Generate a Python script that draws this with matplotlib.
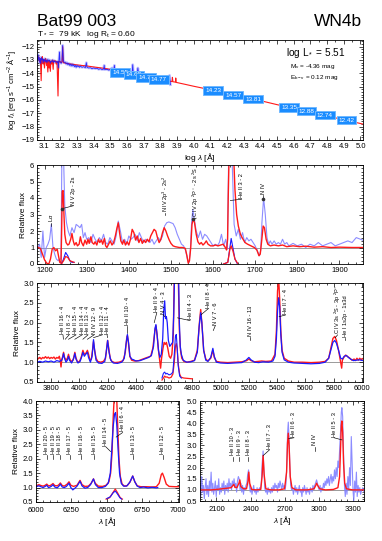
import numpy as np
import matplotlib
matplotlib.use("Agg")
import matplotlib.pyplot as plt
from matplotlib.ticker import MultipleLocator

plt.rcParams["font.family"] = ["Liberation Sans", "DejaVu Sans"]
plt.rcParams["mathtext.fontset"] = "custom"
plt.rcParams["mathtext.rm"] = "Liberation Sans"
plt.rcParams["mathtext.it"] = "Liberation Sans:italic"

RED = "#ff1a1a"
BLUE = "#1a1aff"
LBLUE = "#8080ff"
GREY = "#9a9a9a"

# ---------------- SED panel (log lambda, log f) ----------------
sed_model = np.array([
    (3.060, -12.85), (3.065, -12.95), (3.070, -12.75), (3.075, -13.10), (3.080, -12.90),
    (3.085, -14.55), (3.088, -12.95), (3.092, -12.75), (3.097, -13.30), (3.100, -12.95),
    (3.105, -13.60), (3.108, -13.00), (3.112, -12.90), (3.117, -13.40), (3.120, -13.00),
    (3.125, -13.90), (3.128, -13.05), (3.133, -13.60), (3.136, -13.05), (3.140, -13.85),
    (3.143, -13.10), (3.148, -13.30), (3.152, -13.00), (3.157, -13.70), (3.160, -13.05),
    (3.165, -13.10), (3.170, -13.05), (3.175, -13.30), (3.180, -13.10), (3.186, -15.70),
    (3.190, -13.10), (3.195, -13.15), (3.200, -13.12), (3.205, -13.20), (3.210, -13.15),
    (3.214, -12.00), (3.218, -13.20), (3.225, -13.22), (3.240, -13.26), (3.250, -13.28),
    (3.300, -13.37), (3.360, -13.45), (3.400, -13.52), (3.460, -13.62), (3.500, -13.70),
    (3.550, -13.82), (3.600, -13.95), (3.650, -14.07), (3.700, -14.20), (3.750, -14.32),
    (3.800, -14.45), (3.850, -14.57), (3.870, -14.62), (3.872, -14.30), (3.875, -14.63),
    (3.890, -14.66), (3.892, -14.35), (3.895, -14.68), (3.950, -14.83), (4.000, -14.97),
    (4.100, -15.23), (4.200, -15.50), (4.300, -15.77), (4.400, -16.05), (4.500, -16.35),
    (4.600, -16.63), (4.700, -16.92), (4.800, -17.20), (4.900, -17.48), (5.020, -17.82),
])

sed_obs = np.array([
    (3.060, -12.70), (3.063, -13.10), (3.066, -12.60), (3.070, -13.00), (3.073, -12.80),
    (3.077, -13.20), (3.080, -12.90), (3.083, -13.30), (3.086, -12.80), (3.090, -13.00),
    (3.093, -12.90), (3.097, -13.20), (3.100, -12.95), (3.104, -13.10), (3.108, -12.90),
    (3.112, -13.15), (3.116, -13.00), (3.120, -13.20), (3.125, -12.95), (3.130, -13.10),
    (3.135, -13.00), (3.140, -13.25), (3.145, -13.05), (3.150, -13.15), (3.155, -13.00),
    (3.160, -13.20), (3.165, -13.05), (3.170, -13.15), (3.175, -13.10), (3.180, -13.20),
    (3.185, -13.10), (3.188, -13.60), (3.191, -13.10), (3.195, -12.40), (3.198, -13.15),
    (3.205, -13.25), (3.210, -13.10), (3.214, -11.90), (3.218, -13.00), (3.222, -13.20),
    (3.228, -13.15), (3.235, -13.30), (3.240, -13.20), (3.245, -13.35), (3.250, -13.25),
    (3.255, -13.40), (3.260, -13.30), (3.265, -13.45), (3.270, -13.30), (3.275, -13.45),
    (3.280, -13.35), (3.285, -13.50), (3.290, -13.40), (3.295, -13.55), (3.300, -13.40),
    (3.305, -13.50), (3.310, -13.45), (3.315, -13.55), (3.320, -13.45), (3.330, -13.55),
    (3.340, -13.50), (3.350, -13.58), (3.356, -13.20), (3.360, -13.55), (3.370, -13.60),
    (3.380, -13.58), (3.390, -13.65), (3.400, -13.60), (3.410, -13.65), (3.420, -13.62),
    (3.430, -13.70), (3.440, -13.65), (3.450, -13.72), (3.460, -13.68), (3.463, -13.40),
    (3.466, -13.72), (3.480, -13.70), (3.490, -13.76), (3.500, -13.72), (3.510, -13.60),
    (3.515, -13.95), (3.520, -13.80), (3.524, -13.40), (3.528, -13.85), (3.540, -13.80),
    (3.550, -13.90), (3.560, -13.85), (3.570, -13.95), (3.580, -13.90), (3.590, -14.00),
    (3.600, -13.95), (3.610, -14.05), (3.620, -14.00), (3.630, -14.08), (3.634, -13.35),
    (3.638, -14.05), (3.650, -14.15), (3.660, -14.05), (3.665, -13.60), (3.670, -14.10),
    (3.680, -14.20), (3.690, -14.15), (3.700, -14.25), (3.710, -14.20), (3.720, -14.30),
    (3.730, -14.25), (3.740, -14.35), (3.750, -14.30), (3.760, -14.38), (3.770, -14.35),
    (3.780, -14.42), (3.790, -14.40), (3.800, -14.47), (3.810, -14.40), (3.817, -14.25),
    (3.820, -14.50), (3.830, -14.52), (3.840, -14.50), (3.850, -14.65), (3.855, -14.15),
    (3.860, -14.85),
])

phot_logw = [3.56, 3.64, 3.715, 3.79, 4.117, 4.237, 4.356, 4.572, 4.677, 4.785, 4.916]
phot_logf = [-13.95, -14.12, -14.30, -14.48, -15.26, -15.63, -15.93, -16.57, -16.83, -17.13, -17.50]
phot_mag = ["14.55", "14.68", "14.75", "14.77", "14.23", "14.57", "13.81",
            "13.35", "12.88", "12.74", "12.42"]

# ---------------- UV panel ----------------
uv_obs = np.array([
    (1180, 1.10), (1184, 1.00), (1188, 1.20), (1192, 0.40), (1196, 2.00), (1200, 0.40),
    (1204, 1.00), (1208, 1.20), (1212, 1.50), (1216, 2.40), (1220, 1.00), (1224, 0.60),
    (1228, 0.30), (1232, 0.20), (1236, 0.30), (1239, 0.30), (1241, 6.50), (1245, 6.50),
    (1248, 3.50), (1252, 2.50), (1256, 2.00), (1260, 1.70), (1265, 2.20), (1270, 1.90),
    (1275, 2.40), (1280, 2.30), (1284, 2.20), (1288, 2.40), (1292, 1.60), (1296, 1.90),
    (1300, 1.50), (1305, 1.60), (1310, 1.30), (1315, 1.80), (1320, 1.50), (1325, 1.30),
    (1330, 1.60), (1335, 1.40), (1340, 1.80), (1345, 1.30), (1350, 1.20), (1355, 1.60),
    (1360, 1.40), (1365, 1.20), (1370, 1.70), (1375, 2.60), (1380, 2.00), (1385, 1.30),
    (1390, 1.50), (1395, 1.20), (1400, 1.70), (1405, 1.50), (1410, 1.60), (1415, 1.80),
    (1420, 1.40), (1425, 1.90), (1430, 1.60), (1435, 1.30), (1440, 1.50), (1445, 1.40),
    (1450, 1.30), (1455, 1.50), (1460, 1.20), (1465, 1.40), (1470, 1.60), (1475, 1.40),
    (1480, 1.70), (1485, 2.30), (1490, 2.50), (1495, 2.55), (1500, 2.50), (1505, 2.45),
    (1510, 2.20), (1515, 1.80), (1520, 1.50), (1525, 1.20), (1530, 1.10), (1535, 0.80),
    (1540, 0.20), (1543, 0.10), (1546, 0.80), (1549, 2.50), (1552, 3.30), (1555, 2.80),
    (1560, 2.00), (1565, 1.60), (1570, 2.00), (1575, 1.50), (1580, 1.80), (1585, 1.70),
    (1590, 1.50), (1595, 1.30), (1600, 1.10), (1605, 1.20), (1610, 1.10), (1615, 1.30),
    (1620, 1.80), (1625, 1.10), (1630, 1.50), (1634, 0.90), (1637, 6.50), (1645, 6.50),
    (1650, 2.40), (1655, 1.70), (1660, 2.10), (1665, 1.50), (1670, 1.90), (1675, 1.30),
    (1680, 1.60), (1685, 1.40), (1690, 1.50), (1695, 1.30), (1700, 1.10), (1705, 0.80),
    (1710, 0.50), (1713, 0.80), (1716, 2.50), (1720, 4.00), (1724, 3.00), (1728, 1.60),
    (1732, 1.20), (1736, 1.40), (1740, 1.20), (1745, 1.40), (1750, 1.20), (1755, 1.30),
    (1760, 1.20), (1765, 1.50), (1770, 1.20), (1775, 1.30), (1780, 1.10), (1790, 1.25),
    (1800, 1.10), (1810, 1.20), (1820, 1.00), (1830, 1.20), (1840, 1.10), (1850, 1.30),
    (1860, 1.10), (1870, 1.20), (1880, 1.30), (1890, 1.10), (1900, 1.20), (1910, 1.30),
    (1920, 1.40), (1930, 1.30), (1940, 1.60), (1950, 1.50), (1960, 1.40),
])

uv_model = np.array([
    (1180, 1.05), (1185, 1.00), (1190, 0.95), (1195, 0.60), (1200, 0.25), (1205, 0.05),
    (1210, 0.00), (1214, 0.30), (1218, 0.90), (1222, 1.00), (1226, 0.80), (1230, 0.90),
    (1233, 0.50), (1236, 0.10), (1239, 0.05), (1240.5, 2.00), (1242, 4.40), (1244, 4.45),
    (1246, 3.00), (1248, 1.80), (1251, 1.30), (1255, 1.15), (1258, 1.20), (1262, 1.50),
    (1265, 1.85), (1268, 1.40), (1271, 1.15), (1275, 1.30), (1278, 1.10), (1282, 1.20),
    (1285, 1.65), (1288, 1.30), (1292, 1.10), (1296, 1.45), (1300, 1.20), (1303, 1.50),
    (1306, 1.25), (1310, 1.65), (1313, 1.30), (1317, 1.20), (1320, 1.35), (1324, 1.15),
    (1328, 1.50), (1331, 1.30), (1335, 1.45), (1338, 1.20), (1342, 1.55), (1345, 1.10),
    (1348, 1.00), (1352, 1.20), (1356, 1.40), (1360, 1.15), (1364, 1.30), (1368, 1.70),
    (1372, 2.20), (1375, 2.50), (1378, 1.90), (1381, 1.40), (1385, 1.20), (1388, 1.45),
    (1392, 1.15), (1396, 1.35), (1400, 1.15), (1404, 1.50), (1408, 2.10), (1412, 1.90),
    (1416, 1.45), (1420, 1.70), (1424, 1.30), (1428, 1.55), (1432, 1.25), (1436, 1.45),
    (1440, 1.30), (1444, 1.50), (1448, 1.35), (1452, 1.70), (1456, 1.90), (1460, 2.10),
    (1464, 2.00), (1468, 1.60), (1472, 1.30), (1476, 1.50), (1480, 1.90), (1484, 2.20),
    (1488, 2.00), (1492, 1.70), (1496, 1.45), (1500, 1.25), (1505, 1.10), (1510, 1.05),
    (1520, 1.00), (1528, 1.00), (1534, 0.95), (1538, 0.50), (1541, 0.05), (1544, 0.20),
    (1547, 1.00), (1550, 2.40), (1553, 2.75), (1556, 2.50), (1560, 1.80), (1564, 1.35),
    (1568, 1.20), (1572, 1.30), (1576, 1.15), (1580, 1.25), (1584, 1.40), (1588, 1.20),
    (1594, 1.10), (1600, 1.10), (1606, 1.15), (1612, 1.10), (1618, 1.15), (1624, 1.20),
    (1628, 1.05), (1632, 0.85), (1634.5, 1.50), (1636, 4.00), (1638, 6.50), (1649, 6.50),
    (1652, 4.50), (1656, 3.00), (1660, 2.30), (1665, 1.80), (1670, 1.55), (1676, 1.30),
    (1682, 1.20), (1690, 1.10), (1698, 1.00), (1704, 0.85), (1709, 0.50), (1712, 0.60),
    (1715, 1.30), (1719, 2.30), (1722, 2.20), (1726, 1.50), (1730, 1.20), (1736, 1.10),
    (1745, 1.15), (1755, 1.10), (1765, 1.15), (1775, 1.05), (1790, 1.10), (1805, 1.05),
    (1820, 1.08), (1840, 1.02), (1860, 1.05), (1880, 1.00), (1900, 1.02), (1930, 1.00),
    (1960, 1.00),
])

uv_cut_obs = [
    np.array([(1240, 0.00), (1245, 0.30), (1250, 0.70), (1255, 0.50), (1260, 0.20), (1265, 0.10), (1270, 0.10)]),
    np.array([(1625, 0.00), (1635, 0.10), (1640, 1.00), (1643, 1.55), (1647, 1.00), (1652, 0.30), (1658, 0.00)]),
]
uv_cut_model = [
    np.array([(1240, 0.00), (1245, 0.20), (1250, 0.45), (1255, 0.40), (1260, 0.20), (1265, 0.15), (1270, 0.10)]),
    np.array([(1625, 0.00), (1635, 0.10), (1640, 0.90), (1643, 1.10), (1647, 0.80), (1652, 0.30), (1658, 0.05)]),
]

# ---------------- optical blue panel ----------------
opt_model = np.array([
    (3700, 1.05), (3710, 1.10), (3720, 1.12), (3730, 1.08), (3740, 1.12), (3750, 1.10),
    (3760, 1.14), (3770, 1.10), (3780, 1.13), (3790, 1.09), (3800, 1.12), (3810, 1.10),
    (3820, 1.13), (3830, 1.08), (3840, 1.12), (3850, 1.10), (3858, 1.15), (3865, 1.05),
    (3870, 0.88), (3875, 1.05), (3882, 1.15), (3888, 1.25), (3895, 1.12), (3905, 1.05),
    (3915, 1.10), (3923, 1.20), (3930, 1.10), (3940, 1.02), (3955, 1.05), (3962, 1.15),
    (3968, 1.25), (3975, 1.12), (3985, 1.02), (3995, 1.00), (4005, 1.05), (4015, 1.15),
    (4025, 1.30), (4035, 1.20), (4045, 1.22), (4057, 1.30), (4065, 1.20), (4075, 1.05),
    (4085, 1.08), (4093, 1.30), (4100, 1.52), (4108, 1.30), (4118, 1.10), (4130, 1.02),
    (4150, 1.00), (4170, 1.02), (4185, 1.10), (4193, 1.35), (4200, 1.55), (4208, 1.35),
    (4218, 1.10), (4230, 1.02), (4250, 0.99), (4280, 1.00), (4310, 1.04), (4325, 1.25),
    (4335, 1.60), (4340, 1.67), (4347, 1.50), (4357, 1.15), (4370, 1.05), (4390, 1.03),
    (4420, 1.04), (4450, 1.08), (4480, 1.12), (4505, 1.15), (4520, 1.35), (4535, 1.80),
    (4542, 1.92), (4550, 1.70), (4560, 1.30), (4568, 1.05), (4575, 0.85), (4582, 1.10),
    (4592, 1.35), (4600, 1.50), (4608, 1.45), (4616, 1.50), (4626, 1.35), (4636, 1.15),
    (4646, 1.10), (4655, 1.20), (4665, 1.70), (4672, 3.20), (4700, 3.20), (4708, 1.80),
    (4716, 1.30), (4725, 1.10), (4740, 1.02), (4760, 1.00), (4790, 1.02), (4815, 1.05),
    (4835, 1.30), (4850, 2.00), (4859, 2.33), (4867, 2.00), (4880, 1.30), (4895, 1.08),
    (4910, 1.03), (4930, 1.10), (4945, 1.30), (4955, 1.12), (4970, 1.02), (5000, 1.00),
    (5050, 0.99), (5100, 1.00), (5150, 1.01), (5185, 1.04), (5200, 1.08), (5215, 1.04),
    (5240, 1.01), (5290, 1.03), (5320, 1.02), (5360, 1.03), (5385, 1.20), (5395, 1.80),
    (5403, 2.80), (5411, 3.10), (5418, 2.60), (5426, 1.80), (5435, 1.30), (5450, 1.10),
    (5480, 1.03), (5520, 1.00), (5580, 1.00), (5640, 0.99), (5700, 1.00), (5740, 1.02),
    (5765, 1.10), (5780, 1.35), (5795, 1.60), (5808, 1.65), (5820, 1.55), (5835, 1.30),
    (5845, 1.10), (5852, 0.95), (5857, 0.85), (5862, 1.05), (5872, 1.12), (5885, 1.18),
    (5900, 1.14), (5915, 1.10), (5930, 1.05), (5945, 1.08), (5955, 1.04), (5965, 1.10),
    (5975, 1.05), (5985, 1.10), (5995, 1.06), (6010, 1.10),
])

opt_obs = np.array([
    (3700, 1.00), (3720, 1.02), (3740, 1.00), (3760, 1.03), (3780, 1.01), (3800, 1.03),
    (3820, 1.00), (3840, 1.04), (3860, 1.02), (3875, 1.05), (3882, 1.12), (3888, 1.22),
    (3895, 1.10), (3905, 1.00), (3915, 1.05), (3923, 1.15), (3930, 1.05), (3945, 0.98),
    (3960, 1.10), (3968, 1.22), (3976, 1.08), (3990, 0.98), (4005, 1.02), (4015, 1.12),
    (4025, 1.25), (4035, 1.15), (4045, 1.20), (4057, 1.25), (4065, 1.12), (4078, 1.00),
    (4090, 1.15), (4100, 1.57), (4108, 1.30), (4118, 1.05), (4135, 0.98), (4160, 0.97),
    (4180, 1.02), (4190, 1.25), (4200, 1.55), (4210, 1.25), (4222, 1.05), (4240, 0.98),
    (4270, 0.97), (4300, 1.00), (4318, 1.10), (4330, 1.45), (4340, 1.70), (4348, 1.50),
    (4358, 1.15), (4370, 1.08), (4385, 1.06), (4400, 1.03), (4430, 1.04), (4460, 1.08),
    (4490, 1.12), (4510, 1.17), (4525, 1.40), (4535, 1.85), (4542, 1.95), (4550, 1.70),
    (4560, 1.30), (4570, 1.12), (4580, 1.20), (4590, 1.60), (4597, 2.30), (4604, 2.55),
    (4610, 2.10), (4616, 2.15), (4622, 2.00), (4630, 1.55), (4640, 1.40), (4650, 1.45),
    (4660, 1.50), (4668, 2.20), (4674, 3.20), (4702, 3.20), (4708, 2.00), (4714, 1.40),
    (4722, 1.20), (4735, 1.05), (4760, 1.00), (4790, 1.01), (4815, 1.04), (4835, 1.25),
    (4848, 1.90), (4859, 2.25), (4867, 2.00), (4880, 1.30), (4895, 1.05), (4910, 1.02),
    (4930, 1.12), (4945, 1.35), (4955, 1.15), (4970, 1.00), (5000, 0.98), (5050, 0.97),
    (5100, 0.98), (5150, 0.99), (5180, 1.05), (5200, 1.12), (5215, 1.06), (5240, 1.00),
    (5270, 0.99), (5300, 1.01), (5340, 1.00), (5370, 1.03), (5385, 1.15), (5395, 1.60),
    (5403, 2.30), (5411, 2.63), (5418, 2.40), (5426, 1.70), (5435, 1.25), (5450, 1.06),
    (5480, 1.00), (5520, 0.98), (5580, 0.97), (5640, 0.96), (5700, 0.97), (5740, 1.00),
    (5765, 1.10), (5780, 1.30), (5795, 1.50), (5808, 1.55), (5820, 1.48), (5835, 1.30),
    (5850, 1.10), (5862, 1.08), (5875, 1.15), (5890, 1.17), (5905, 1.12), (5920, 1.08),
    (5940, 1.04), (5960, 1.05), (5980, 1.06), (6010, 1.04),
])

opt_cut_model = np.array([
    (4585, 0.55), (4595, 0.60), (4604, 0.65), (4612, 0.62), (4620, 0.63), (4635, 0.60),
    (4650, 0.62), (4662, 0.70), (4672, 1.00), (4680, 1.40), (4686, 1.47), (4692, 1.35),
    (4700, 0.95), (4710, 0.70), (4720, 0.62), (4740, 0.60), (4770, 0.59), (4800, 0.58),
])
opt_cut_obs = np.array([
    (4585, 0.60), (4595, 0.72), (4604, 0.75), (4612, 0.70), (4620, 0.72), (4635, 0.68),
    (4650, 0.70), (4662, 0.75), (4672, 1.20), (4680, 1.65), (4686, 1.70), (4692, 1.40),
    (4700, 0.90), (4710, 0.65), (4722, 0.60),
])

# ---------------- red optical panel ----------------
red_model = np.array([
    (6000, 1.06), (6020, 1.10), (6035, 1.07), (6050, 1.05), (6065, 1.08),
    (6076, 1.12), (6088, 1.06), (6100, 1.07), (6110, 1.10), (6120, 1.14), (6132, 1.07),
    (6150, 1.06), (6162, 1.10), (6172, 1.16), (6185, 1.07), (6200, 1.05), (6220, 1.12),
    (6233, 1.20), (6246, 1.08), (6265, 1.04), (6290, 1.08), (6311, 1.25), (6325, 1.10),
    (6345, 1.04), (6370, 1.05), (6390, 1.15), (6406, 1.30), (6418, 1.15), (6440, 1.05),
    (6470, 1.04), (6495, 1.08), (6515, 1.20), (6527, 1.50), (6537, 2.20), (6545, 3.40),
    (6552, 4.10), (6570, 4.10), (6578, 3.00), (6586, 2.00), (6595, 1.40), (6608, 1.12),
    (6625, 1.05), (6645, 1.07), (6665, 1.20), (6683, 1.40), (6698, 1.20), (6715, 1.06),
    (6740, 1.03), (6780, 1.03), (6820, 1.02), (6850, 1.03), (6870, 1.15), (6885, 1.45),
    (6893, 1.50), (6905, 1.35), (6920, 1.12), (6940, 1.04), (6980, 1.03), (7010, 1.03),
])
red_obs = np.array([
    (6000, 1.03), (6020, 1.06), (6035, 1.03), (6050, 1.00), (6065, 1.04),
    (6076, 1.08), (6088, 1.00), (6100, 1.02), (6110, 1.05), (6120, 1.10), (6132, 1.02),
    (6150, 0.99), (6162, 1.05), (6172, 1.12), (6185, 1.02), (6200, 1.00), (6215, 1.04),
    (6233, 1.15), (6246, 1.00), (6260, 0.92), (6275, 0.98), (6290, 1.05), (6311, 1.22),
    (6325, 1.06), (6345, 0.98), (6365, 1.00), (6385, 1.10), (6406, 1.30), (6420, 1.10),
    (6440, 1.00), (6465, 1.00), (6490, 1.04), (6510, 1.15), (6525, 1.50), (6535, 2.30),
    (6545, 3.10), (6555, 3.55), (6562, 3.60), (6570, 3.20), (6580, 2.30), (6590, 1.50),
    (6602, 1.15), (6618, 1.05), (6640, 1.05), (6662, 1.18), (6683, 1.40), (6698, 1.20),
    (6715, 1.05), (6735, 1.00), (6760, 1.02), (6790, 0.99), (6820, 1.01), (6850, 0.99),
    (6860, 1.00),
])
red_cut_model = np.array([(6495, 0.60), (6520, 0.65), (6540, 0.80), (6560, 0.95), (6578, 0.80), (6595, 0.65), (6610, 0.60)])
red_cut_obs = np.array([(6500, 0.62), (6525, 0.68), (6545, 0.82), (6560, 0.88), (6575, 0.78), (6592, 0.65), (6605, 0.60)])

# ---------------- near-UV panel ----------------
nuv_model = np.array([
    (1955, 1.00), (2050, 1.00), (2100, 1.02), (2150, 1.05), (2200, 1.08), (2230, 1.10),
    (2245, 1.20), (2253, 1.25), (2262, 1.12), (2280, 1.10), (2298, 1.30), (2306, 1.45),
    (2315, 1.15), (2340, 1.05), (2365, 1.05), (2378, 1.40), (2385, 1.80), (2393, 1.30),
    (2410, 1.02), (2450, 1.00), (2490, 1.02), (2502, 1.60), (2511, 2.55), (2520, 1.70),
    (2535, 1.05), (2580, 1.00), (2650, 1.00), (2700, 1.05), (2718, 1.80), (2726, 3.10),
    (2733, 3.55), (2740, 3.00), (2750, 1.60), (2765, 1.10), (2800, 1.00), (2900, 1.00),
    (2960, 1.05), (2975, 1.20), (2982, 1.30), (2992, 1.20), (3010, 1.05), (3060, 1.00),
    (3130, 1.02), (3170, 1.10), (3185, 1.60), (3193, 2.80), (3200, 3.90), (3205, 4.10),
    (3212, 3.60), (3220, 2.20), (3230, 1.30), (3245, 1.05), (3300, 1.00), (3400, 1.00),
])
nuv_obs = np.array([
    (1955, 1.30), (1962, 0.70), (1970, 1.60), (1978, 0.90), (1985, 1.20), (1993, 0.60),
    (2000, 1.10), (2008, 1.50), (2015, 0.80), (2023, 1.20), (2030, 0.70), (2038, 1.40),
    (2045, 1.00), (2053, 1.80), (2060, 0.90), (2068, 1.30), (2075, 0.80), (2083, 1.10),
    (2090, 1.40), (2098, 0.70), (2105, 1.20), (2113, 1.00), (2120, 1.50), (2128, 0.80),
    (2135, 1.10), (2143, 0.90), (2150, 1.30), (2158, 1.00), (2165, 1.40), (2173, 0.80),
    (2180, 1.20), (2188, 1.00), (2195, 1.30), (2203, 0.90), (2210, 1.50), (2218, 1.10),
    (2225, 1.30), (2233, 1.00), (2240, 1.40), (2248, 1.20), (2255, 1.50), (2263, 1.10),
    (2270, 1.30), (2278, 0.90), (2285, 1.40), (2293, 1.60), (2300, 1.50), (2308, 1.00),
    (2315, 1.30), (2323, 0.90), (2330, 1.20), (2338, 0.80), (2345, 1.10), (2353, 1.00),
    (2360, 1.20), (2368, 1.30), (2375, 1.70), (2383, 1.90), (2390, 1.20), (2398, 0.90),
    (2405, 1.10), (2413, 0.80), (2420, 1.00), (2428, 1.20), (2435, 0.90), (2443, 1.00),
    (2450, 0.80), (2458, 1.10), (2465, 0.90), (2473, 1.00), (2480, 1.10), (2488, 1.00),
    (2495, 1.30), (2503, 2.20), (2511, 2.75), (2518, 1.90), (2525, 1.10), (2533, 0.90),
    (2540, 1.00), (2548, 0.80), (2555, 1.10), (2563, 0.90), (2570, 1.00), (2578, 0.85),
    (2585, 1.10), (2593, 0.90), (2600, 1.20), (2608, 1.00), (2615, 1.30), (2623, 1.10),
    (2630, 1.20), (2638, 0.90), (2645, 1.30), (2653, 1.10), (2660, 1.40), (2668, 1.20),
    (2675, 1.00), (2683, 1.30), (2690, 1.10), (2698, 1.20), (2705, 1.00), (2713, 1.30),
    (2720, 2.20), (2726, 3.50), (2733, 4.05), (2740, 3.30), (2747, 2.00), (2754, 1.20),
    (2762, 1.00), (2770, 1.10), (2778, 0.80), (2785, 1.00), (2793, 1.20), (2800, 0.90),
    (2808, 1.10), (2815, 0.80), (2823, 1.00), (2830, 1.20), (2838, 0.90), (2845, 1.00),
    (2853, 0.70), (2860, 1.10), (2868, 0.90), (2875, 1.20), (2883, 1.00), (2890, 0.80),
    (2898, 1.10), (2905, 0.90), (2913, 1.00), (2920, 0.80), (2928, 1.10), (2935, 1.00),
    (2943, 0.90), (2950, 1.20), (2958, 1.00), (2965, 1.20), (2973, 1.30), (2982, 1.45),
    (2990, 1.30), (2998, 1.10), (3005, 1.00), (3013, 1.20), (3020, 0.90), (3028, 1.10),
    (3035, 1.00), (3043, 1.30), (3050, 1.10), (3058, 1.40), (3065, 1.20), (3073, 1.50),
    (3080, 1.30), (3088, 1.60), (3095, 1.20), (3103, 1.50), (3110, 1.70), (3118, 1.30),
    (3125, 1.60), (3133, 1.40), (3140, 1.90), (3148, 1.50), (3155, 2.00), (3163, 1.60),
    (3170, 2.30), (3178, 2.00), (3185, 2.80), (3193, 3.60), (3200, 4.50), (3205, 4.70),
    (3212, 4.30), (3220, 2.60), (3228, 1.20), (3235, 0.70), (3243, 1.30), (3250, 0.80),
    (3258, 1.60), (3265, 1.00), (3273, 2.00), (3280, 1.20), (3288, 3.40), (3295, 2.30),
    (3303, 1.00), (3310, 0.50), (3318, 1.40), (3325, 0.90), (3333, 1.80), (3340, 0.70),
    (3348, 1.20), (3355, 0.90), (3363, 1.10), (3370, 0.80), (3380, 1.00), (3390, 1.10),
    (3400, 0.90),
])

# line identifications: (text x, text bottom y, label, leader start x, leader start y)
uv_ids = [
    (1216, 2.55, r"L$\alpha$", 1216, 2.30),
    (1268, 3.60, "N V 2p - 2s", 1241, 3.35),
    (1487, 3.15, r"N IV 2p$^3$ - 2s$^2$", 1487, 2.95),
    (1560, 2.85, r"C IV 2p $^2$P$^\circ$ - 2s $^2$S", 1552, 2.70),
    (1668, 4.00, "He II 3 - 2", 1641, 3.85),
    (1719, 4.25, "N IV", 1719, 3.95),
]
opt_ids = [
    (3884, 1.72, "He II 16 - 4", 3887, 1.58),
    (3927, 1.72, "H I 8 - 2", 3900, 1.58),
    (3976, 1.72, "He II 15 - 4", 3923, 1.58),
    (4019, 1.72, "He II 14 - 4", 3968, 1.58),
    (4061, 1.72, "He II 13 - 4", 4025, 1.58),
    (4104, 1.72, "N IV 12 - 9", 4057, 1.58),
    (4161, 1.72, "He II 12 - 4", 4100, 1.62),
    (4196, 1.72, "He II 11 - 4", 4200, 1.62),
    (4340, 1.95, "He II 10 - 4", 4340, 1.74),
    (4548, 2.28, "He II 9 - 4", 4530, 2.00),
    (4595, 2.22, "N V 4 - 3", 4604, 2.15),
    (4784, 2.08, "He II 4 - 3", 4695, 2.12),
    (4912, 2.38, "He II 8 - 4", 4862, 2.20),
    (4962, 1.95, "N V 7 - 6", 4948, 1.80),
    (5210, 1.66, "N IV 16 - 13", 5210, 1.55),
    (5458, 2.22, "He II 7 - 4", 5414, 2.15),
    (5828, 1.72, r"C IV 3s $^2$S - 3p $^2$P$^\circ$", 5812, 1.62),
    (5883, 1.64, "He I 1s2p - 1s3d", 5883, 1.55),
]
red_ids = [
    (6076, 2.17, "He II 20 - 5", 6076, 2.00),
    (6122, 2.17, "He II 19 - 5", 6122, 2.00),
    (6169, 2.17, "He II 18 - 5", 6169, 2.00),
    (6240, 2.17, "He II 17 - 5", 6240, 2.00),
    (6318, 2.17, "He II 16 - 5", 6318, 2.00),
    (6412, 2.17, "He II 15 - 5", 6412, 2.00),
    (6494, 2.45, "He II 14 - 5", 6527, 2.25),
    (6612, 2.95, "He II 6 - 4", 6566, 2.75),
    (6687, 2.17, "He II 13 - 5", 6687, 2.00),
    (6895, 2.17, "He II 12 - 5", 6895, 2.00),
]
nuv_ids = [
    (2243, 2.55, "He II 10 - 3", 2243, 2.30),
    (2301, 2.55, "He II 9 - 3", 2301, 2.30),
    (2381, 2.55, "He II 8 - 3", 2381, 2.30),
    (2566, 2.85, "He II 7 - 3", 2513, 2.55),
    (2783, 3.40, "He II 6 - 3", 2736, 3.30),
    (2968, 3.00, "N IV", 2968, 2.75),
    (3136, 3.40, "He II 5 - 3", 3205, 3.25),
]

W, H = 382, 541
fig = plt.figure(figsize=(W / 100, H / 100), dpi=100)


def box(x0, y0, x1, y1):
    return fig.add_axes([x0 / W, 1 - y1 / H, (x1 - x0) / W, (y1 - y0) / H])


def style(ax, xmaj, xmin, ymaj, ymin):
    ax.xaxis.set_major_locator(MultipleLocator(xmaj))
    ax.xaxis.set_minor_locator(MultipleLocator(xmin))
    ax.yaxis.set_major_locator(MultipleLocator(ymaj))
    ax.yaxis.set_minor_locator(MultipleLocator(ymin))
    ax.tick_params(which="both", direction="in", top=True, right=True,
                   labelsize=5.5, width=0.5, pad=2)
    ax.tick_params(which="major", length=3)
    ax.tick_params(which="minor", length=1.5)
    for s in ax.spines.values():
        s.set_linewidth(0.6)


def ident(ax, ids, fs=4.1):
    gap = 0.012 * (ax.get_ylim()[1] - ax.get_ylim()[0])
    for xt, yt, lab, xl, yl in ids:
        ax.plot([xl, xt], [yl, yt - gap], color="black", lw=0.45)
        ax.text(xt, yt, lab, rotation=90, ha="center", va="bottom", fontsize=fs)


# --- SED ---
ax1 = box(37, 40, 363, 140)
ax1.plot(sed_obs[:, 0], sed_obs[:, 1], color=LBLUE, lw=2.0, alpha=0.45)
ax1.plot(sed_model[:, 0], sed_model[:, 1], color=RED, lw=0.8)
ax1.plot(sed_obs[:, 0], sed_obs[:, 1], color=BLUE, lw=0.6, alpha=0.9)
for xw, yf, m in zip(phot_logw, phot_logf, phot_mag):
    ax1.text(xw, yf, m, fontsize=4.6, color="white", ha="center", va="center",
             bbox=dict(boxstyle="square,pad=0.3", fc="#1a8cff", ec="#70b8ff", lw=0.7))
ax1.set_xlim(3.06, 5.015)
ax1.set_ylim(-19, -11.5)
style(ax1, 0.1, 0.05, 1, 0.2)
ax1.set_xlabel(r"log $\lambda$ [Å]", fontsize=6, labelpad=1)
ax1.set_ylabel(r"log $f_\lambda$ [erg s$^{-1}$ cm$^{-2}$ Å$^{-1}$]", fontsize=5.5, labelpad=2)
ax1.text(0.945, 0.87, r"log L$_*$ = 5.51", transform=ax1.transAxes, fontsize=7.2,
         ha="right", va="center")
ax1.text(0.775, 0.73, r"M$_\mathrm{v}$ = -4.36 mag", transform=ax1.transAxes, fontsize=4.6,
         ha="left", va="center")
ax1.text(0.775, 0.62, r"E$_\mathrm{b-v}$ = 0.12 mag", transform=ax1.transAxes, fontsize=4.6,
         ha="left", va="center")

# --- UV ---
ax2 = box(37, 165, 363, 264)
ax2.axhline(1.0, color=GREY, lw=0.7, zorder=1)
ax2.plot(uv_obs[:, 0], uv_obs[:, 1], color=LBLUE, lw=0.8, alpha=0.9)
ax2.plot(uv_model[:, 0], uv_model[:, 1], color=RED, lw=1.0)
for c in uv_cut_obs:
    ax2.plot(c[:, 0], c[:, 1], color=BLUE, lw=0.8)
for c in uv_cut_model:
    ax2.plot(c[:, 0], c[:, 1], color=RED, lw=0.9)
ax2.set_xlim(1182, 1956)
ax2.set_ylim(0, 6)
style(ax2, 100, 20, 1, 0.2)
ax2.set_ylabel("Relative flux", fontsize=6, labelpad=2)
ident(ax2, uv_ids)
ax2.plot([1241, 1552, 1719], [3.35, 2.70, 3.95], "o", color="#333333", ms=1.6)

# --- optical ---
ax3 = box(37, 283, 363, 382)
ax3.axhline(1.0, color=GREY, lw=0.7, zorder=1)
ax3.plot(opt_model[:, 0], opt_model[:, 1], color=RED, lw=1.0)
ax3.plot(opt_obs[:, 0], opt_obs[:, 1], color=BLUE, lw=0.9)
ax3.plot(opt_cut_model[:, 0], opt_cut_model[:, 1], color=RED, lw=0.9)
ax3.plot(opt_cut_obs[:, 0], opt_cut_obs[:, 1], color=BLUE, lw=0.8)
ax3.set_xlim(3700, 6008)
ax3.set_ylim(0.5, 3.0)
style(ax3, 200, 50, 0.5, 0.1)
ax3.set_ylabel("Relative flux", fontsize=6, labelpad=2)
ident(ax3, opt_ids)

# --- red optical ---
ax4 = box(36, 401, 179, 502)
ax4.axhline(1.0, color=GREY, lw=0.7, zorder=1)
ax4.plot(red_model[:, 0], red_model[:, 1], color=RED, lw=1.0)
ax4.plot(red_obs[:, 0], red_obs[:, 1], color=BLUE, lw=0.9)
ax4.plot(red_cut_model[:, 0], red_cut_model[:, 1], color=RED, lw=0.9)
ax4.plot(red_cut_obs[:, 0], red_cut_obs[:, 1], color=BLUE, lw=0.8)
ax4.set_xlim(6000, 7010)
ax4.set_ylim(0.5, 4.0)
style(ax4, 250, 50, 0.5, 0.1)
ax4.tick_params(axis="x", pad=3.5)
ax4.set_ylabel("Relative flux", fontsize=6, labelpad=2)
ax4.set_xlabel(r"$\lambda$ [Å]", fontsize=6, labelpad=0.5)
ident(ax4, red_ids)

# --- near UV ---
ax5 = box(200, 401, 364, 501)
ax5.axhline(1.0, color=GREY, lw=0.7, zorder=1)
ax5.plot(nuv_obs[:, 0], nuv_obs[:, 1], color=LBLUE, lw=0.8, alpha=0.9)
ax5.plot(nuv_model[:, 0], nuv_model[:, 1], color=RED, lw=1.0)
ax5.set_xlim(1955, 3400)
ax5.set_ylim(0.5, 5.0)
style(ax5, 300, 50, 0.5, 0.1)
ax5.tick_params(axis="x", pad=3.5)
ax5.set_xlabel(r"$\lambda$ [Å]", fontsize=6, labelpad=0.5)
ident(ax5, nuv_ids)

fig.text(37 / W, 1 - 26.5 / H, "Bat99 003", fontsize=12.5, ha="left", va="baseline")
fig.text(362 / W, 1 - 26.5 / H, "WN4b", fontsize=12.5, ha="right", va="baseline")
fig.text(37 / W, 1 - 36 / H, r"T$_*$ =  79 kK   log R$_\mathrm{t}$ = 0.60", fontsize=6,
         ha="left", va="baseline")

fig.savefig("out.png", dpi=100)
